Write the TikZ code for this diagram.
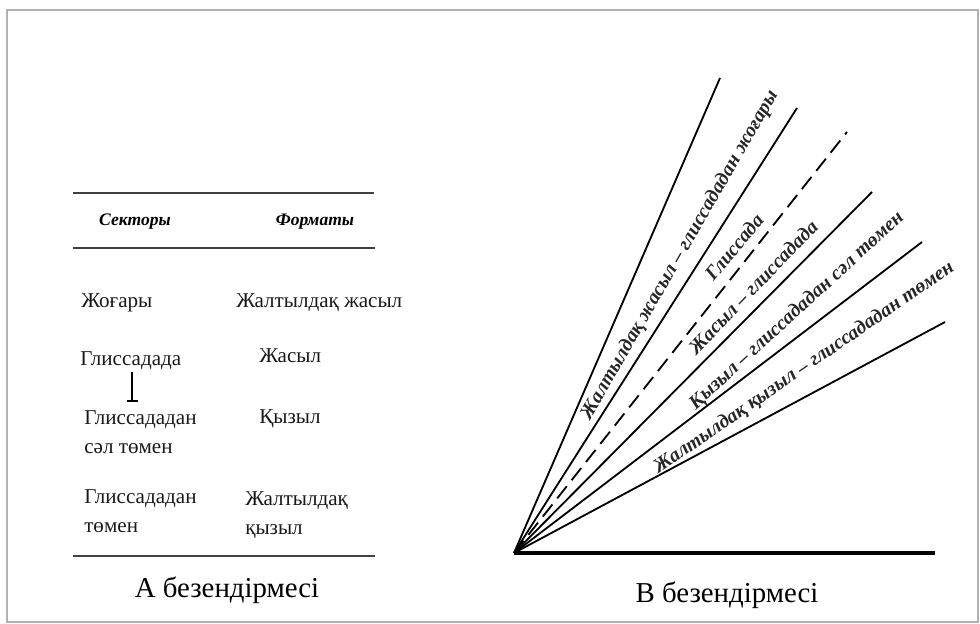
\documentclass[tikz,border=0pt]{standalone}
\usepackage{fontspec}
\setmainfont{Liberation Serif}
\usepackage{tikz}
\usetikzlibrary{positioning}

\tikzset{
  cell/.style={anchor=west,inner sep=0pt,align=left,font=\fontsize{15}{20.5}\selectfont,text=black!90},
  head/.style={inner sep=0pt,font=\fontsize{12.5}{14}\selectfont\bfseries\itshape},
  caption/.style={inner sep=0pt,font=\fontsize{20.5}{24}\selectfont},
  rule/.style={line width=1.4pt,black!75},
  ray/.style={line width=1.3pt},
  raylabel/.style={inner sep=0pt,font=\fontsize{14.2}{16}\selectfont\bfseries\itshape,text=black!85}
}

\begin{document}
\begin{tikzpicture}[x=0.025cm,y=-0.025cm]
  \useasboundingbox (0,0) rectangle (980,624);
  \draw[gray!60,line width=1.4pt](7,10) rectangle (978,622);

  % table
  \draw[rule](73,193)--(374,193);
  \draw[rule](73,248)--(375,248);
  \draw[rule](73,556)--(375,556);
  \node[head] (hsec) at (135,222) {Секторы};
  \node[head] (hfmt) at (315,222) {Форматы};

  \node[cell] (s1) at (81,303) {Жоғары};
  \node[cell] (f1) at (236,303) {Жалтылдақ жасыл};
  \node[cell] (s2) at (80,361) {Глиссадада};
  \node[cell] (f2) at (259,356) {Жасыл};
  \node[cell] (s3) at (84,432) {Глиссададан\\сәл төмен};
  \node[cell] (f3) at (259,419) {Қызыл};
  \node[cell] (s4) at (84,511) {Глиссададан\\төмен};
  \node[cell] (f4) at (245,515) {Жалтылдақ\\қызыл};

  % text cursor
  \draw[line width=0.8pt](132,372)--(132,401) (127,401)--(138,401);

  \node[caption] (capA) at (227,590) {А безендірмесі};

  % fan of sectors
  \coordinate (O) at (514,553);
  \coordinate (r1) at (720,78);
  \coordinate (r2) at (797,108);
  \coordinate (r3) at (847,132);
  \coordinate (r4) at (872,192);
  \coordinate (r5) at (922,242);
  \coordinate (r6) at (945,322);
  \coordinate (r0) at (935,553);
  \draw[line width=2.4pt](O)--(r0);
  \draw[ray](O)--(r1);
  \draw[ray](O)--(r2);
  \draw[ray,dash pattern=on 11pt off 5.5pt](O)--(r3);
  \draw[ray](O)--(r4);
  \draw[ray](O)--(r5);
  \draw[ray](O)--(r6);

  \node[raylabel,rotate=60] (l1) at (680,255) {Жалтылдақ жасыл – глиссададан жоғары};
  \node[raylabel,rotate=50] (l2) at (734,247) {Глиссада};
  \node[raylabel,rotate=46] (l3) at (753,287) {Жасыл – глиссадада};
  \node[raylabel,rotate=42.5] (l4) at (797,311) {Қызыл – глиссададан сәл төмен};
  \node[raylabel,rotate=34.5] (l5) at (804,368) {Жалтылдақ қызыл – глиссададан төмен};

  \node[caption] (capB) at (727,595) {В безендірмесі};
\end{tikzpicture}
\end{document}
